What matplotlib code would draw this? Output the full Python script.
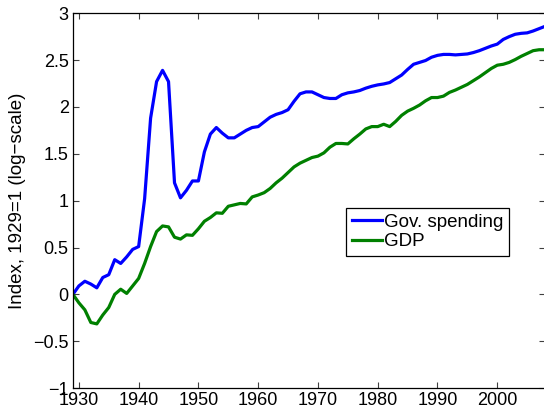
import numpy as np
import matplotlib
matplotlib.use("Agg")
import matplotlib.pyplot as plt

plt.rcParams['font.family'] = ['Liberation Sans', 'DejaVu Sans']

# Years and log indices (1929 = 0)
years = list(range(1929, 2009))
gov_spending = [
    0.00, 0.09, 0.14, 0.11, 0.07, 0.18, 0.21, 0.37, 0.33, 0.40,
    0.48, 0.51, 1.02, 1.88, 2.27, 2.39, 2.27, 1.19, 1.03, 1.11,
    1.21, 1.21, 1.52, 1.71, 1.78, 1.72, 1.67, 1.67, 1.71, 1.75,
    1.78, 1.79, 1.84, 1.89, 1.92, 1.94, 1.97, 2.06, 2.14, 2.16,
    2.16, 2.13, 2.10, 2.09, 2.09, 2.13, 2.15, 2.16, 2.175, 2.20,
    2.22, 2.235, 2.245, 2.26, 2.30, 2.34, 2.40, 2.455, 2.475, 2.495,
    2.53, 2.55, 2.56, 2.56, 2.555, 2.56, 2.565, 2.58, 2.60, 2.625,
    2.65, 2.67, 2.72, 2.75, 2.775, 2.785, 2.79, 2.81, 2.835, 2.86,
]
gdp = [
    0.00, -0.09, -0.165, -0.30, -0.315, -0.22, -0.14, 0.00, 0.055, 0.01,
    0.09, 0.17, 0.33, 0.51, 0.67, 0.73, 0.72, 0.61, 0.59, 0.635,
    0.63, 0.70, 0.78, 0.82, 0.87, 0.865, 0.94, 0.955, 0.97, 0.965,
    1.04, 1.06, 1.085, 1.13, 1.19, 1.24, 1.30, 1.36, 1.40, 1.43,
    1.46, 1.475, 1.51, 1.57, 1.61, 1.61, 1.605, 1.66, 1.71, 1.765,
    1.79, 1.79, 1.815, 1.79, 1.845, 1.91, 1.955, 1.985, 2.02, 2.065,
    2.10, 2.10, 2.115, 2.155, 2.18, 2.21, 2.24, 2.28, 2.32, 2.365,
    2.41, 2.445, 2.455, 2.475, 2.505, 2.54, 2.57, 2.60, 2.61, 2.61,
]
x_ticks = [1930, 1940, 1950, 1960, 1970, 1980, 1990, 2000]
y_ticks = [-1, -0.5, 0, 0.5, 1, 1.5, 2, 2.5, 3]
y_labels = ['\u22121', '\u22120.5', '0', '0.5', '1', '1.5', '2', '2.5', '3']

fig = plt.figure(figsize=(5.44, 4.12), dpi=100)
ax = fig.add_axes([0.134, 0.058, 0.868, 0.91])

ax.plot(years, gov_spending, color=(0, 0, 1), lw=2.3, label='Gov. spending')
ax.plot(years, gdp, color=(0, 0.5, 0), lw=2.3, label='GDP')

ax.set_xlim(1929, 2008)
ax.set_ylim(-1, 3)
ax.set_xticks(x_ticks)
ax.set_yticks(y_ticks)
ax.set_yticklabels(y_labels)
ax.tick_params(direction='in', length=4, width=0.8, labelsize=13,
               top=True, right=True, color='#404040')
ax.tick_params(axis='x', pad=3)
ax.tick_params(axis='y', pad=3)
for s in ax.spines.values():
    s.set_linewidth(0.9)
ax.set_ylabel('Index, 1929=1 (log\u2212scale)', fontsize=13.5, labelpad=5)

leg = ax.legend(loc='upper left', bbox_to_anchor=(0.579, 0.481), fontsize=13.5,
                handlelength=1.6, handletextpad=0.1, borderpad=0.3,
                labelspacing=0.15, fancybox=False, framealpha=1,
                borderaxespad=0)
leg.get_frame().set_edgecolor('black')
leg.get_frame().set_linewidth(0.9)

fig.savefig('out.png', dpi=100)
